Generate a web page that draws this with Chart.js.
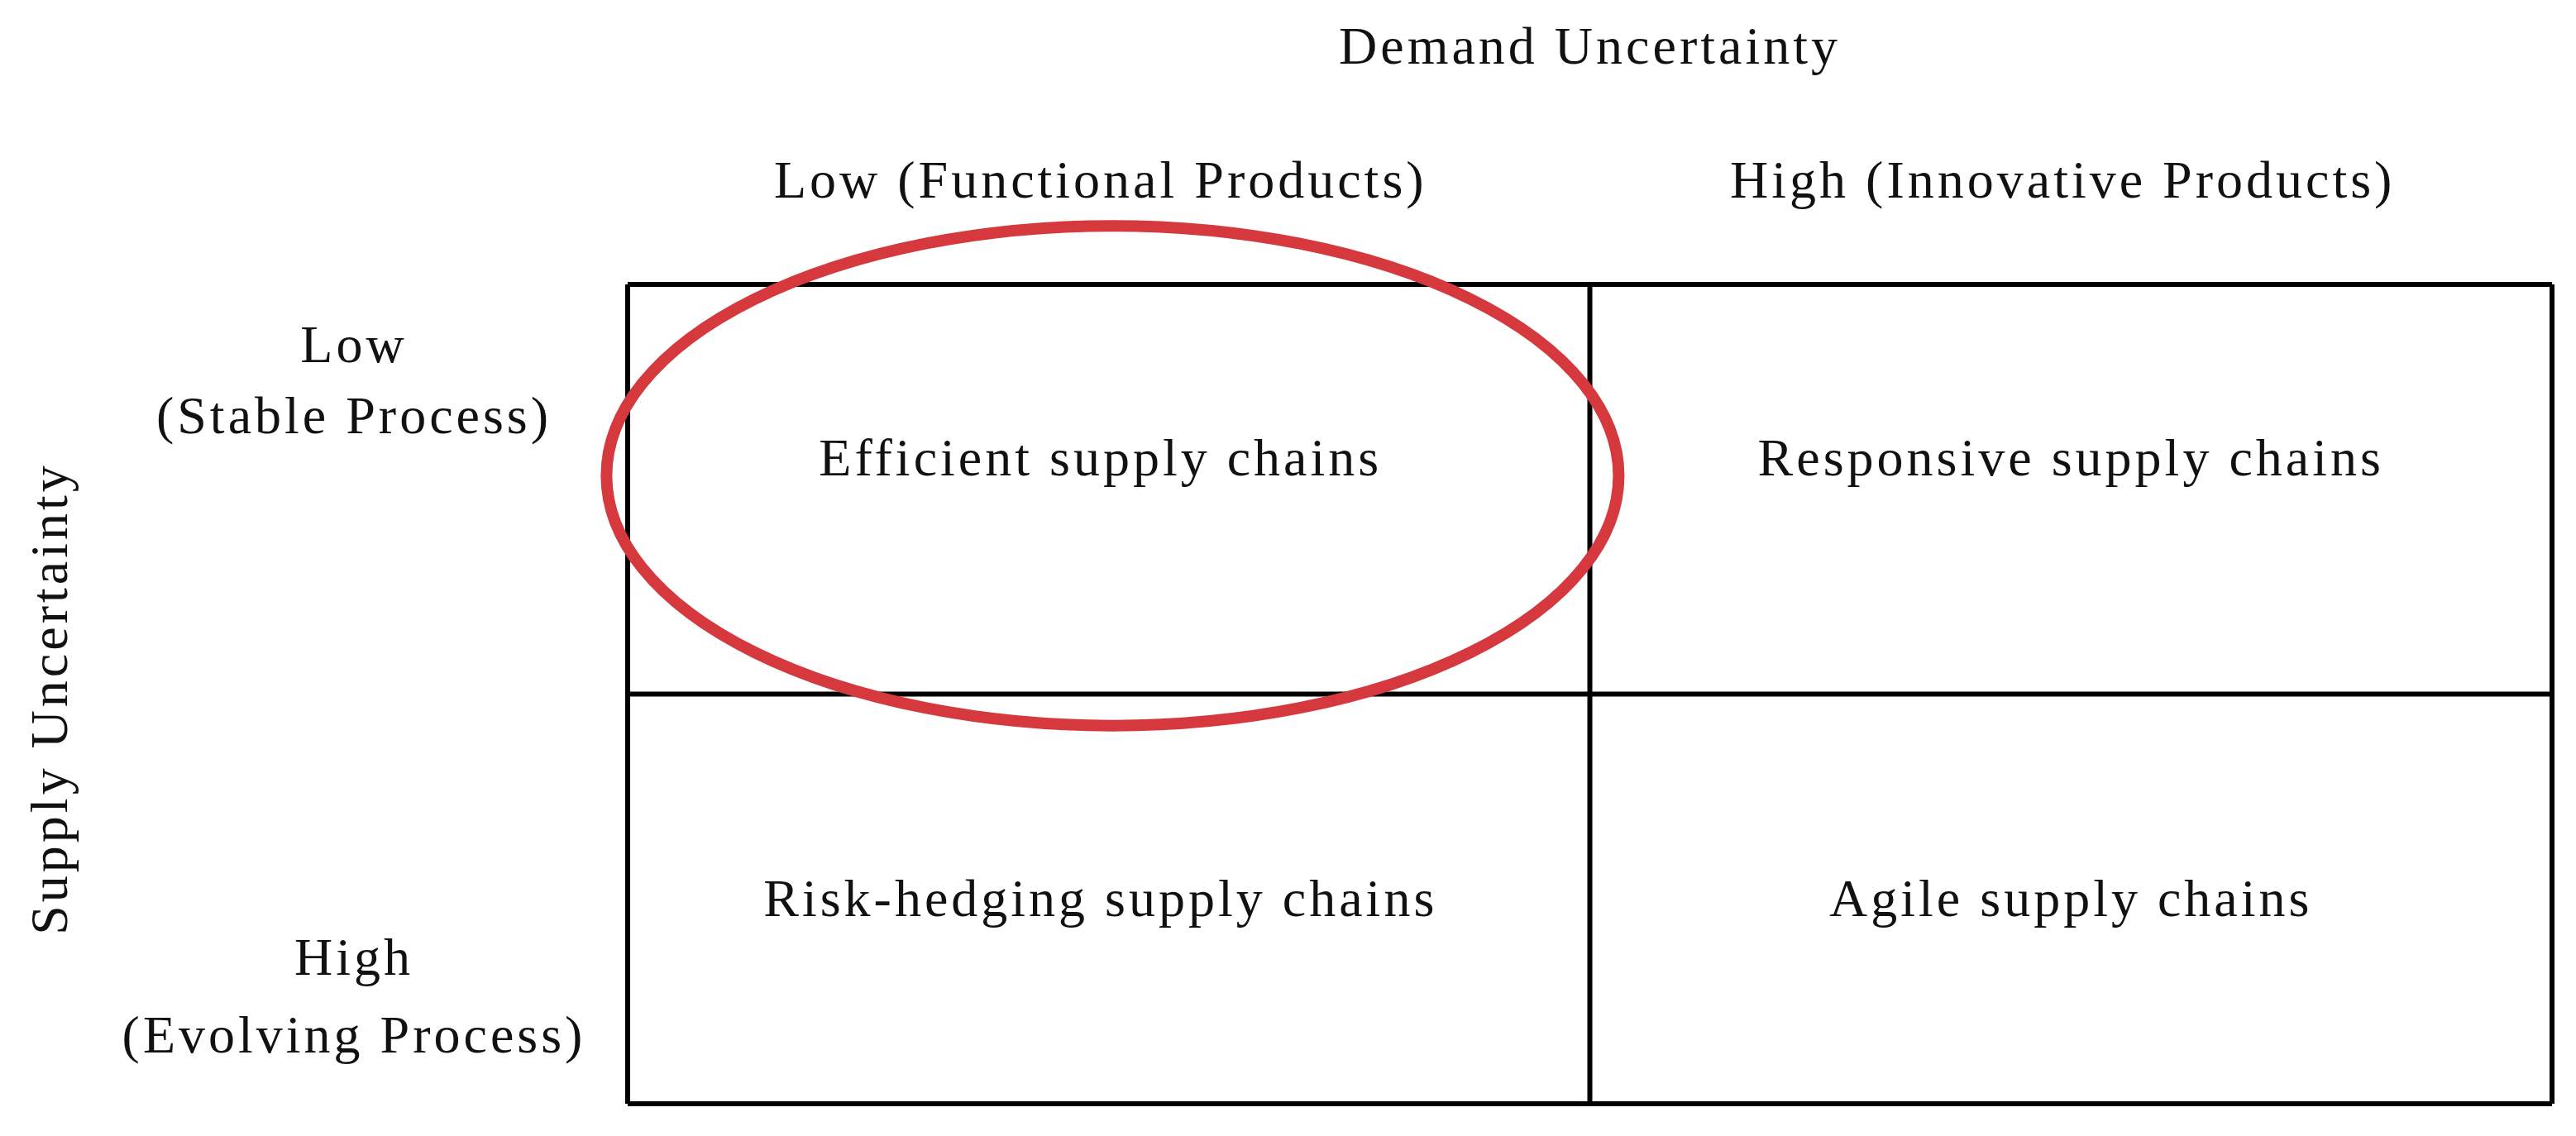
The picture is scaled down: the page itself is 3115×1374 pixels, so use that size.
<!DOCTYPE html>
<html>
<head>
<meta charset="utf-8">
<script src="https://cdn.jsdelivr.net/npm/chart.js"></script>
<style>
  html, body { margin: 0; padding: 0; background: #fff; }
  #wrap { width: 3115px; height: 1374px; position: relative; }
</style>
</head>
<body>
<div id="wrap"><canvas id="c" width="3115" height="1374"></canvas></div>
<script>
// data
const columnLabels = ['Low (Functional Products)', 'High (Innovative Products)'];
const rowLabels = [['Low', '(Stable Process)'], ['High', '(Evolving Process)']];
const cellLabels = [
  ['Efficient supply chains', 'Responsive supply chains'],
  ['Risk-hedging supply chains', 'Agile supply chains']
];
const xTitle = 'Demand Uncertainty';
const yTitle = 'Supply Uncertainty';
// highlighted cell ellipse (data units): center x, y, radius x, y
const highlight = { x: 0.504, y: 1.533, rx: 0.526, ry: 0.61 };

const FONT = '"Liberation Serif", "DejaVu Serif", serif';

// plugin: draw the 2x2 grid, labels and ellipse from the scales
const matrixPlugin = {
  id: 'matrix',
  afterDraw(chart) {
    const ctx = chart.ctx;
    const xs = chart.scales.x, ys = chart.scales.y;
    const px = v => xs.getPixelForValue(v);
    const py = v => ys.getPixelForValue(v);
    ctx.save();
    // grid
    ctx.strokeStyle = '#000';
    ctx.lineWidth = 6;
    for (let i = 0; i <= 2; i++) {
      ctx.beginPath(); ctx.moveTo(px(i), py(0)); ctx.lineTo(px(i), py(2)); ctx.stroke();
      ctx.beginPath(); ctx.moveTo(px(0), py(i)); ctx.lineTo(px(2), py(i)); ctx.stroke();
    }
    ctx.fillStyle = '#111';
    ctx.textAlign = 'center';
    ctx.textBaseline = 'middle';
    ctx.font = '64px ' + FONT;
    ctx.letterSpacing = '4px';
    // cells
    cellLabels.forEach((row, r) => {
      row.forEach((t, c) => {
        const cx = px(c + 0.5) + (c === 0 ? -10 : 0);
        const cy = py(2 - r - 0.5) - (r === 0 ? 34 : -4);
        ctx.fillText(t, cx, cy);
      });
    });
    // column headers
    columnLabels.forEach((t, c) => {
      ctx.fillText(t, px(c + 0.5) - 10, 222);
    });
    // title
    ctx.fillText(xTitle, px(1), 60);
    // row labels
    const rowX = 428;
    ctx.fillText(rowLabels[0][0], rowX, 421);
    ctx.fillText(rowLabels[0][1], rowX, 507);
    ctx.fillText(rowLabels[1][0], rowX, 1162);
    ctx.fillText(rowLabels[1][1], rowX, 1256);
    // y title
    ctx.save();
    ctx.translate(64, 845);
    ctx.rotate(-Math.PI / 2);
    ctx.fillText(yTitle, 0, 0);
    ctx.restore();
    // ellipse
    ctx.strokeStyle = '#d6393d';
    ctx.lineWidth = 14;
    ctx.beginPath();
    ctx.ellipse(px(highlight.x), py(highlight.y),
      Math.abs(px(highlight.rx) - px(0)), Math.abs(py(highlight.ry) - py(0)), 0, 0, Math.PI * 2);
    ctx.stroke();
    ctx.restore();
  }
};

new Chart(document.getElementById('c'), {
  type: 'scatter',
  data: { datasets: [{ data: [], pointRadius: 0 }] },
  options: {
    responsive: false,
    devicePixelRatio: 1,
    animation: false,
    layout: { padding: { left: 759, top: 344, right: 29, bottom: 39 } },
    plugins: { legend: { display: false }, tooltip: { enabled: false } },
    scales: {
      x: { type: 'linear', min: 0, max: 2, display: false },
      y: { type: 'linear', min: 0, max: 2, display: false }
    }
  },
  plugins: [matrixPlugin]
});
</script>
</body>
</html>
